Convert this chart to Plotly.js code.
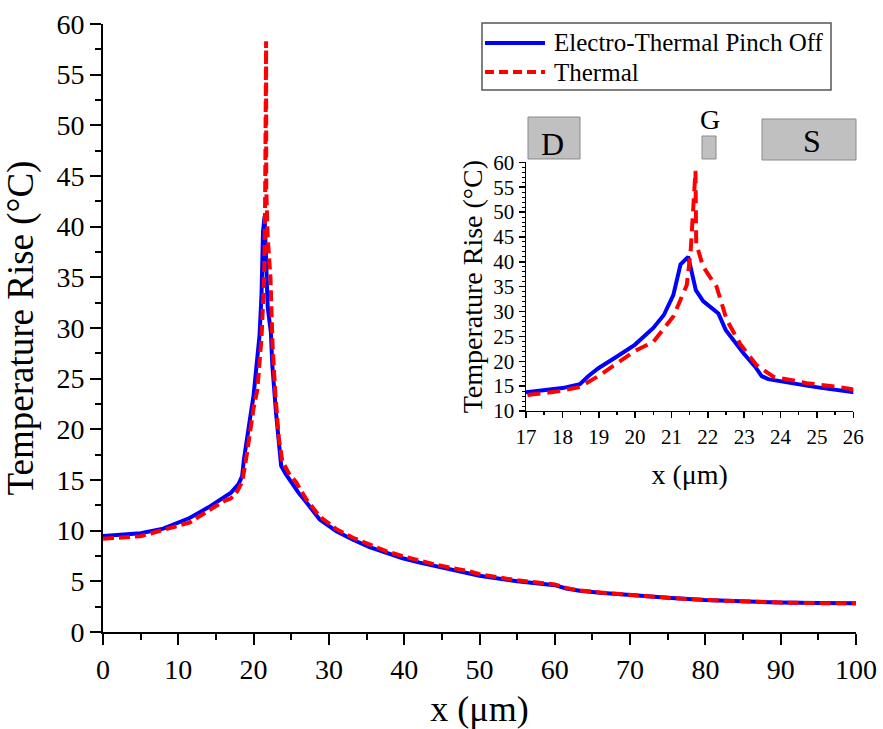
<!DOCTYPE html>
<html>
<head>
<meta charset="utf-8">
<script src="https://cdn.plot.ly/plotly-3.0.1.min.js"></script>
<style>html,body{margin:0;padding:0;background:#fff;}#chart{width:883px;height:729px;}</style>
</head>
<body>
<div id="chart"></div>
<script>
// Electro-Thermal Pinch Off (blue, solid)
const etX = [0, 2, 5, 8, 11.5, 14, 16, 17, 18, 18.48, 18.71, 18.99, 19.49, 19.99, 20.5, 20.79, 21.05, 21.25, 21.46, 21.67, 21.87, 22.29, 22.49, 22.98, 23.3, 23.48, 23.66, 24.26, 24.8, 25.17, 26, 27, 28.78, 31, 33.2, 35.4, 37.6, 39.8, 42.06, 44.3, 48.7, 50, 55, 60, 61.5, 63.3, 66, 69.9, 75, 79.9, 85, 89.9, 95, 100];
const etY = [9.48, 9.55, 9.75, 10.2, 11.25, 12.3, 13.3, 13.75, 14.6, 15.4, 17.0, 18.6, 20.9, 23.3, 26.7, 29.3, 33.3, 39.5, 41.0, 34.3, 32.1, 29.6, 26.3, 21.6, 18.9, 17.0, 16.4, 15.6, 15.0, 14.6, 13.7, 12.8, 11.1, 9.95, 9.1, 8.38, 7.78, 7.28, 6.85, 6.47, 5.82, 5.55, 5.0, 4.62, 4.3, 4.08, 3.88, 3.65, 3.38, 3.16, 3.0, 2.9, 2.85, 2.83];
// Thermal (red, dashed)
const thX = [0, 5, 11.5, 16, 17, 17.84, 18.48, 19.03, 20, 20.5, 21.05, 21.42, 21.53, 21.6, 21.66, 21.68, 21.87, 22.24, 22.52, 22.88, 23.34, 23.8, 24.72, 25.63, 26, 27, 28.78, 31, 33.2, 35.4, 37.6, 39.8, 42.06, 44.3, 48.7, 50, 55, 60, 61.5, 63.3, 66, 69.9, 75, 79.9, 85, 89.9, 95, 100];
const thY = [9.2, 9.45, 10.8, 12.9, 13.2, 13.9, 14.8, 17.2, 22.1, 23.9, 29.0, 35.3, 42.4, 51.0, 58.3, 43.7, 39.0, 35.0, 28.3, 23.6, 19.2, 16.9, 15.6, 14.8, 14.3, 13.1, 11.4, 10.15, 9.3, 8.6, 7.98, 7.48, 7.02, 6.62, 5.98, 5.7, 5.1, 4.7, 4.35, 4.1, 3.9, 3.66, 3.38, 3.16, 3.0, 2.9, 2.85, 2.83];

const seriesNames = ['Electro-Thermal Pinch Off', 'Thermal'];
const mainXTicks = [0, 10, 20, 30, 40, 50, 60, 70, 80, 90, 100];
const mainYTicks = [0, 5, 10, 15, 20, 25, 30, 35, 40, 45, 50, 55, 60];
const insetXTicks = [17, 18, 19, 20, 21, 22, 23, 24, 25, 26];
const insetYTicks = [10, 15, 20, 25, 30, 35, 40, 45, 50, 55, 60];
const regionLabels = ['D', 'G', 'S'];

const FONT = 'Liberation Serif, Times New Roman, serif';
const BLUE = '#0000ff', RED = '#ff0000';

const traces = [
  {x: etX, y: etY, type: 'scatter', mode: 'lines', name: seriesNames[0],
   line: {color: BLUE, width: 4}, xaxis: 'x', yaxis: 'y'},
  {x: thX, y: thY, type: 'scatter', mode: 'lines', name: seriesNames[1],
   line: {color: RED, width: 4, dash: '11px,5px'}, xaxis: 'x', yaxis: 'y'},
  {x: etX, y: etY, type: 'scatter', mode: 'lines', showlegend: false,
   line: {color: BLUE, width: 4}, xaxis: 'x2', yaxis: 'y2'},
  {x: thX, y: thY, type: 'scatter', mode: 'lines', showlegend: false,
   line: {color: RED, width: 4, dash: '13px,7px'}, xaxis: 'x2', yaxis: 'y2'}
];

const axisCommon = {
  showgrid: false, zeroline: false, showline: true, linecolor: '#000', linewidth: 2,
  ticks: 'outside', tickcolor: '#000', tickwidth: 2, mirror: false
};

// legend drawn as a boxed key (paper coordinates)
const LG = {x0: 0.5033, x1: 0.9668, y0: 0.8914, y1: 1.0016, sx0: 0.5073, sx1: 0.587, tx: 0.5963, r1: 0.9688, r2: 0.9210};

const layout = {
  width: 883, height: 729,
  margin: {l: 103, r: 27, t: 24, b: 97},
  paper_bgcolor: '#fff', plot_bgcolor: 'rgba(0,0,0,0)',
  font: {family: FONT, color: '#000'},
  showlegend: false,
  xaxis: Object.assign({}, axisCommon, {
    domain: [0, 1], range: [0, 100], tickvals: mainXTicks, ticklen: 11,
    tickfont: {family: FONT, size: 28},
    minor: {dtick: 5, ticklen: 6, tickwidth: 2, tickcolor: '#000', ticks: 'outside'},
    title: {text: 'x (μm)', font: {family: FONT, size: 36}, standoff: 14},
    anchor: 'y'
  }),
  yaxis: Object.assign({}, axisCommon, {
    domain: [0, 1], range: [0, 60], tickvals: mainYTicks, ticklen: 11,
    tickfont: {family: FONT, size: 28},
    minor: {dtick: 2.5, ticklen: 6, tickwidth: 2, tickcolor: '#000', ticks: 'outside'},
    title: {text: 'Temperature Rise (°C)', font: {family: FONT, size: 37}, standoff: 14},
    anchor: 'x'
  }),
  xaxis2: Object.assign({}, axisCommon, {
    domain: [0.5618, 0.9964], range: [17, 26], tickvals: insetXTicks, ticklen: 6, linewidth: 1.5, tickwidth: 1.5,
    tickfont: {family: FONT, size: 21},
    minor: {dtick: 0.5, ticklen: 3, tickwidth: 1.5, tickcolor: '#000', ticks: 'outside'},
    title: {text: 'x (μm)', font: {family: FONT, size: 28}, standoff: 16},
    anchor: 'y2'
  }),
  yaxis2: Object.assign({}, axisCommon, {
    domain: [0.3635, 0.7725], range: [10, 60], tickvals: insetYTicks, ticklen: 6, linewidth: 1.5, tickwidth: 1.5,
    tickfont: {family: FONT, size: 21},
    minor: {dtick: 1, ticklen: 3, tickwidth: 1, tickcolor: '#000', ticks: 'outside'},
    title: {text: 'Temperature Rise (°C)', font: {family: FONT, size: 28}, standoff: 2},
    anchor: 'x2'
  }),
  shapes: [
    {type: 'rect', xref: 'paper', yref: 'paper', x0: 0.5644, x1: 0.6335, y0: 0.778, y1: 0.847,
     fillcolor: '#c0c0c0', line: {color: '#8a8a8a', width: 1}},
    {type: 'rect', xref: 'paper', yref: 'paper', x0: 0.7955, x1: 0.8141, y0: 0.778, y1: 0.8158,
     fillcolor: '#c0c0c0', line: {color: '#8a8a8a', width: 1}},
    {type: 'rect', xref: 'paper', yref: 'paper', x0: 0.8752, x1: 1.0, y0: 0.7763, y1: 0.8438,
     fillcolor: '#c0c0c0', line: {color: '#8a8a8a', width: 1}},
    // legend box and samples
    {type: 'rect', xref: 'paper', yref: 'paper', x0: LG.x0, x1: LG.x1, y0: LG.y0, y1: LG.y1,
     fillcolor: '#fff', line: {color: '#555', width: 1.5}, layer: 'above'},
    {type: 'line', xref: 'paper', yref: 'paper', x0: LG.sx0, x1: LG.sx1, y0: LG.r1, y1: LG.r1,
     line: {color: BLUE, width: 4}, layer: 'above'},
    {type: 'line', xref: 'paper', yref: 'paper', x0: LG.sx0, x1: LG.sx1, y0: LG.r2, y1: LG.r2,
     line: {color: RED, width: 4, dash: '9px,5px'}, layer: 'above'}
  ],
  annotations: [
    {text: regionLabels[0], xref: 'paper', yref: 'paper', x: 0.5976, y: 0.803, xanchor: 'center', yanchor: 'middle', showarrow: false,
     font: {family: FONT, size: 32, color: '#000'}},
    {text: regionLabels[1], xref: 'paper', yref: 'paper', x: 0.806, y: 0.843, xanchor: 'center', yanchor: 'middle', showarrow: false,
     font: {family: FONT, size: 28, color: '#000'}},
    {text: regionLabels[2], xref: 'paper', yref: 'paper', x: 0.9412, y: 0.807, xanchor: 'center', yanchor: 'middle', showarrow: false,
     font: {family: FONT, size: 32, color: '#000'}},
    {text: seriesNames[0], xref: 'paper', yref: 'paper', x: LG.tx, y: LG.r1, xanchor: 'left', yanchor: 'middle', showarrow: false,
     font: {family: FONT, size: 25, color: '#000'}},
    {text: seriesNames[1], xref: 'paper', yref: 'paper', x: LG.tx, y: LG.r2, xanchor: 'left', yanchor: 'middle', showarrow: false,
     font: {family: FONT, size: 25, color: '#000'}}
  ]
};

Plotly.newPlot('chart', traces, layout, {displayModeBar: false, staticPlot: true});
</script>
</body>
</html>
